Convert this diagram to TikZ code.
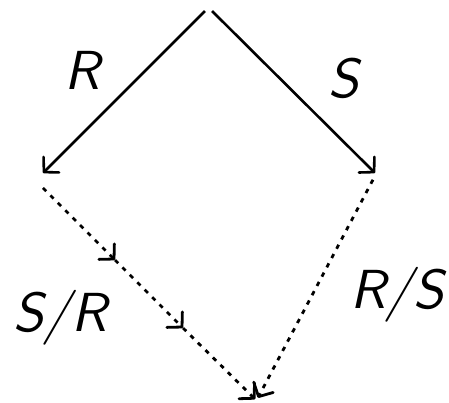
\documentclass[tikz,border=0pt]{standalone}
\usepackage{fontspec}
\newfontfamily\lblfont{lmsans10-oblique.otf}
\usetikzlibrary{arrows.meta}
\tikzset{
  pt/.style={coordinate},
  arrtip/.style={-{Straight Barb[length=10.5pt,width=22pt,round]}},
  solidarr/.style={line width=2.6pt,arrtip},
  dasharr/.style={line width=2.8pt,dash pattern=on 4.5pt off 6pt,arrtip},
  lbl/.style={font=\fontsize{55}{60}\selectfont\lblfont, inner sep=0pt, anchor=base}
}
\begin{document}
\begin{tikzpicture}[x=1pt,y=-1pt]
\useasboundingbox (0,0) rectangle (449,402);
\node[pt] (T) at (208.5,7.5) {};
\node[pt] (L) at (35.5,180.5) {};
\node[pt] (Rt) at (376,174) {};
\node[pt] (B) at (256.5,400.5) {};
\node[pt] (m1) at (115,260) {};
\node[pt] (m2) at (183,328) {};
\draw[solidarr, shorten <=5pt, shorten >=10.6pt] (T) -- (L);
\draw[solidarr, shorten <=5pt, shorten >=1.4pt] (T) -- (Rt);
\draw[dasharr, shorten <=10.6pt] (L) -- (m1);
\draw[dasharr] (m1) -- (m2);
\draw[dasharr, shorten >=1.8pt] (m2) -- (B);
\draw[dasharr, shorten <=6.5pt, shorten >=3pt] (Rt) -- (B);
\node[lbl] (lr) at (82,89) {R};
\node[lbl] (ls) at (344,97) {S};
\node[lbl] (lsr) at (60,331) {S/R};
\node[lbl] (lrs) at (397,308) {R/S};
\end{tikzpicture}
\end{document}
